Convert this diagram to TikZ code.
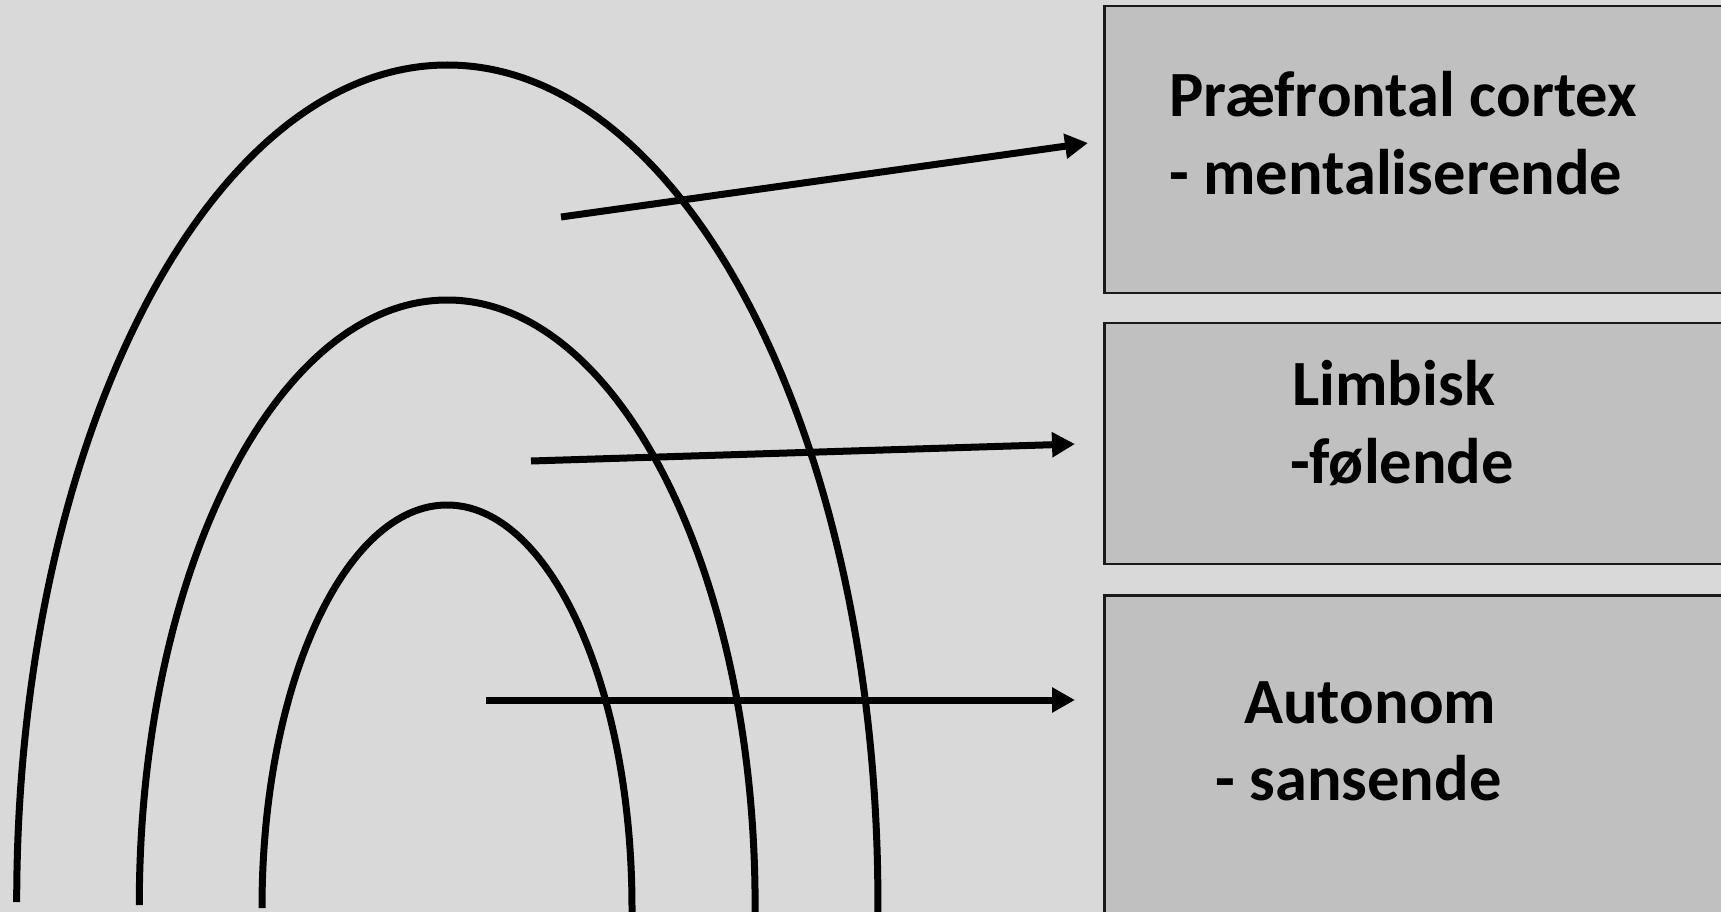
\documentclass[tikz,border=0pt]{standalone}
\usepackage{fontspec}
\setmainfont{Carlito}
\usetikzlibrary{arrows.meta}
\definecolor{bg}{HTML}{D9D9D9}
\definecolor{boxfill}{HTML}{C0C0C0}
\begin{document}
\begin{tikzpicture}[x=1pt,y=-1pt,
  arcline/.style={line width=7pt},
  conn/.style={line width=7pt,-{Triangle[length=23pt,width=24pt]}},
  panel/.style={draw=black!90,line width=2.5pt,fill=boxfill,anchor=north west,inner sep=0pt,outer sep=0pt},
  lbl/.style={font=\fontsize{64.5}{76}\selectfont\bfseries,anchor=base west,inner sep=0pt}]
\fill[bg] (0,0) rectangle (1721,912);
\useasboundingbox (0,0) rectangle (1721,912);
% boxes
\node[panel,minimum width=660pt,minimum height=287pt] (pfc) at (1104.5,6) {};
\node[panel,minimum width=660pt,minimum height=241pt] (limb) at (1104.5,323) {};
\node[panel,minimum width=660pt,minimum height=360pt] (auto) at (1104.5,595.5) {};
% texts
\node[lbl] (pfcA) at (1169,117) {Præfrontal cortex};
\node[lbl] (pfcB) at (1169,195) {- mentaliserende};
\node[lbl] (limbA) at (1292,405) {Limbisk};
\node[lbl] (limbB) at (1290,483) {-følende};
\node[lbl] (autoA) at (1244,723) {Autonom};
\node[lbl] (autoB) at (1215,800) {- sansende};
% arcs
\draw[arcline] (16.7,902) arc[start angle=180,end angle=360,x radius=430.6,y radius=837] -- ++(0,14);
\draw[arcline] (139.3,905) arc[start angle=180,end angle=360,x radius=307.9,y radius=605] -- ++(0,14);
\draw[arcline] (262,908) arc[start angle=180,end angle=360,x radius=185,y radius=403] -- ++(0,14);
% arrows
\coordinate (s1) at (561,217);
\coordinate (t1) at (1088,143);
\coordinate (s2) at (531,461);
\coordinate (t2) at (1075,444);
\coordinate (s3) at (486,700);
\coordinate (t3) at (1075,700);
\draw[conn] (s1) -- (t1);
\draw[conn] (s2) -- (t2);
\draw[conn] (s3) -- (t3);
\end{tikzpicture}
\end{document}
